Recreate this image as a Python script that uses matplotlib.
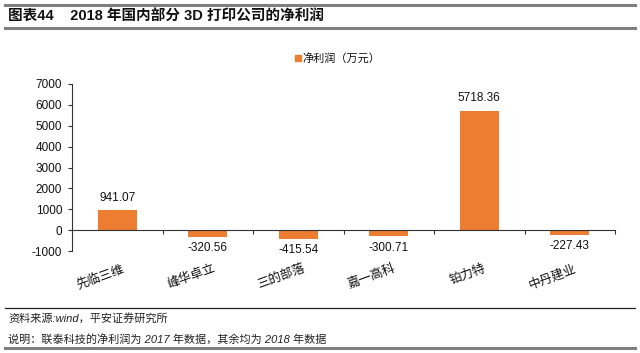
import matplotlib
matplotlib.use("Agg")
import matplotlib.pyplot as plt
import matplotlib.transforms as mtransforms
from matplotlib.lines import Line2D
from matplotlib.patches import Rectangle

plt.rcParams['font.family'] = ['Liberation Sans', 'Noto Sans CJK SC', 'DejaVu Sans']

categories = ['先临三维', '峰华卓立', '三的部落', '嘉一高科', '铂力特', '中丹建业']
values = [941.07, -320.56, -415.54, -300.71, 5718.36, -227.43]
value_labels = ['941.07', '-320.56', '-415.54', '-300.71', '5718.36', '-227.43']
yticks = [-1000, 0, 1000, 2000, 3000, 4000, 5000, 6000, 7000]
legend_label = '净利润（万元）'
title_text = '图表44    2018 年国内部分 3D 打印公司的净利润'
note1 = '资料来源:wind，平安证券研究所'
note2 = '说明：联泰科技的净利润为 2017 年数据，其余均为 2018 年数据'

W, H = 640, 353
fig = plt.figure(figsize=(W / 100, H / 100), dpi=100)
color = '#ED7D31'

def fy(py):
    return 1 - py / H

def fx(px):
    return px / W

# Decorative lines
fig.add_artist(Line2D([fx(5), fx(635)], [fy(5), fy(5)], color='#7f7f7f', lw=2.2))
fig.add_artist(Line2D([fx(5), fx(635)], [fy(28), fy(28)], color='#7f7f7f', lw=2.2))
fig.add_artist(Line2D([fx(5), fx(635)], [fy(308), fy(308)], color='#222222', lw=0.9))
fig.add_artist(Line2D([fx(5), fx(635)], [fy(348), fy(348)], color='#7f7f7f', lw=2.2))

fig.text(fx(8), fy(17), title_text, fontsize=10.5, fontweight='bold', va='center', ha='left', color='#111111')
fig.text(fx(8), fy(318), note1, fontsize=8, style='italic', va='center', ha='left', color='#222222')
fig.text(fx(8), fy(339), note2, fontsize=8, style='italic', va='center', ha='left', color='#222222')

ax = fig.add_axes([fx(72), fy(251), fx(615) - fx(72), fy(84) - fy(251)])
x = list(range(len(categories)))
ax.bar(x, values, width=0.43, color=color, zorder=2)
ax.set_xlim(-0.5, len(categories) - 0.5)
ax.set_ylim(-1000, 7000)
ax.set_yticks(yticks)
ax.set_yticklabels([str(t) for t in yticks], fontsize=8.5, color='#111111')
ax.tick_params(axis='y', direction='out', length=3, width=0.8, color='#333333', pad=4)

for s in ['top', 'right']:
    ax.spines[s].set_visible(False)
ax.spines['left'].set_color('#333333')
ax.spines['left'].set_linewidth(0.8)
ax.spines['bottom'].set_position(('data', 0))
ax.spines['bottom'].set_color('#333333')
ax.spines['bottom'].set_linewidth(0.8)
ax.set_xticks([i + 0.5 for i in range(len(categories))])
ax.set_xticklabels([])
ax.tick_params(axis='x', direction='out', length=3, width=0.8, color='#333333')

for i, (v, lab) in enumerate(zip(values, value_labels)):
    if v >= 0:
        ax.annotate(lab, (i, v), xytext=(0, 5), textcoords='offset points', ha='center', va='bottom', fontsize=8.5, color='#111111')
    else:
        ax.annotate(lab, (i, v), xytext=(0, -4), textcoords='offset points', ha='center', va='top', fontsize=8.5, color='#111111')

trans = mtransforms.blended_transform_factory(ax.transData, ax.transAxes)
for i, c in enumerate(categories):
    ax.text(i + 0.05, -0.07, c, transform=trans, rotation=20, rotation_mode='anchor', ha='right', va='top', fontsize=9, color='#111111')

# Legend
fig.add_artist(Rectangle((fx(295), fy(61)), fx(6), 6 / H, color=color, transform=fig.transFigure))
fig.text(fx(302), fy(58), legend_label, fontsize=8, va='center', ha='left', color='#111111')

fig.savefig('out.png', dpi=100)
